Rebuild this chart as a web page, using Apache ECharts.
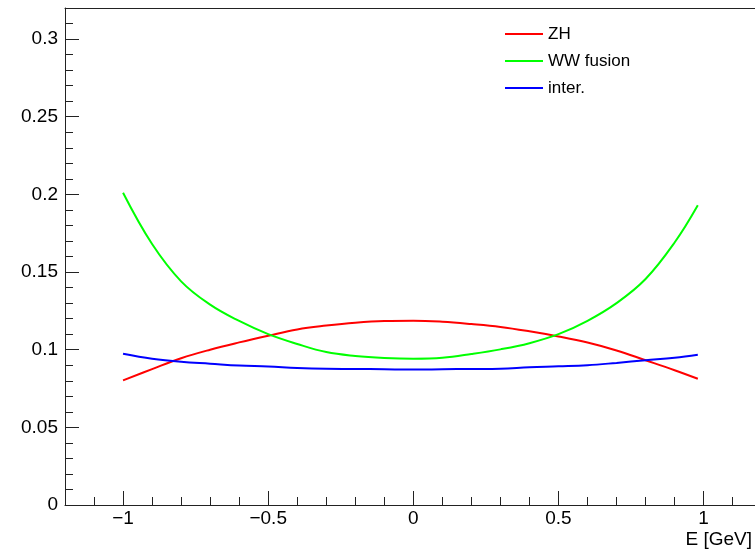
<!DOCTYPE html>
<html>
<head>
<meta charset="utf-8">
<script src="https://cdn.jsdelivr.net/npm/echarts@6/dist/echarts.min.js"></script>
<style>html,body{margin:0;padding:0;background:#fff}#c{width:755px;height:552px}</style>
</head>
<body>
<div id="c"></div>
<script>
// x positions of the curve samples
const xs = [-1.0,-0.9,-0.8,-0.7,-0.6,-0.5,-0.4,-0.3,-0.2,-0.1,0.0,0.1,0.2,0.3,0.4,0.5,0.6,0.7,0.8,0.9,0.98];
const zh = [0.0802,0.0875,0.0945,0.1000,0.1047,0.1090,0.1130,0.1155,0.1174,0.1185,0.1187,0.1180,0.1165,0.1146,0.1118,0.1085,0.1046,0.0995,0.0932,0.0868,0.0813];
const ww = [0.2010,0.1680,0.1440,0.1290,0.1185,0.1100,0.1037,0.0985,0.0960,0.0947,0.0942,0.0948,0.0972,0.1002,0.1042,0.1100,0.1186,0.1300,0.1455,0.1690,0.1930];
const inter = [0.0974,0.0942,0.0922,0.0910,0.0898,0.0892,0.0882,0.0877,0.0876,0.0874,0.0872,0.0874,0.0876,0.0878,0.0887,0.0893,0.0900,0.0915,0.0932,0.0948,0.0968];
const seriesNames = ['ZH','WW fusion','inter.'];
const xMajorTicks = [-1,-0.5,0,0.5,1];
const yMajorTicks = [0,0.05,0.1,0.15,0.2,0.25,0.3];
const xTitle = 'E [GeV]';

const fmt = v => {
  let s = String(Math.round(v*1000)/1000);
  return s.replace('-', '\u2212');
};
const pairs = arr => xs.map((x,i)=>[x,arr[i]]);
const FONT = '"Liberation Sans", Arial, sans-serif';
const AX = '#222';
const X_MIN = -1.2, X_MAX = 1.177;

const chart = echarts.init(document.getElementById('c'));
chart.setOption({
  animation:false,
  textStyle:{fontFamily:FONT},
  grid:{left:65, top:8, right:0, bottom:47, show:false},
  legend:{
    orient:'vertical', left:500, top:19, itemWidth:38, itemHeight:2, itemGap:7,
    icon:'rect', data:seriesNames,
    textStyle:{fontSize:17, color:'#000', lineHeight:20, fontFamily:FONT}
  },
  xAxis:[
    {type:'value', min:X_MIN, max:X_MAX, position:'bottom',
     axisLine:{show:true, onZero:false, lineStyle:{color:AX, width:1}},
     axisTick:{show:true, inside:true, length:14, customValues:xMajorTicks, lineStyle:{color:AX}},
     axisLabel:{show:true, customValues:xMajorTicks, formatter:fmt, fontSize:19, color:'#000', margin:4, fontFamily:FONT},
     splitLine:{show:false}},
    {type:'value', min:X_MIN, max:X_MAX, interval:0.1, position:'bottom',
     axisLine:{show:false, onZero:false},
     axisTick:{show:true, inside:true, length:8, lineStyle:{color:AX}},
     axisLabel:{show:false}, splitLine:{show:false}},
    {type:'value', min:X_MIN, max:X_MAX, position:'top',
     axisLine:{show:true, onZero:false, lineStyle:{color:AX, width:1}},
     axisTick:{show:false}, axisLabel:{show:false}, splitLine:{show:false}}
  ],
  yAxis:[
    {type:'value', min:0, max:0.32, position:'left',
     axisLine:{show:true, onZero:false, lineStyle:{color:AX, width:1}},
     axisTick:{show:true, inside:true, length:14, customValues:yMajorTicks, lineStyle:{color:AX}},
     axisLabel:{show:true, customValues:yMajorTicks, formatter:fmt, fontSize:19, color:'#000', margin:7, fontFamily:FONT},
     splitLine:{show:false}},
    {type:'value', min:0, max:0.32, interval:0.01, position:'left',
     axisLine:{show:false, onZero:false},
     axisTick:{show:true, inside:true, length:8, lineStyle:{color:AX}},
     axisLabel:{show:false}, splitLine:{show:false}}
  ],
  graphic:[{type:'text', right:3, top:530, style:{text:xTitle, fontSize:19, fill:'#000', font:'19px '+FONT}}],
  series:[
    {name:seriesNames[0], type:'line', data:pairs(zh), smooth:0.4, showSymbol:false, lineStyle:{color:'#ff0000', width:2}, itemStyle:{color:'#ff0000'}},
    {name:seriesNames[1], type:'line', data:pairs(ww), smooth:0.4, showSymbol:false, lineStyle:{color:'#00ff00', width:2}, itemStyle:{color:'#00ff00'}},
    {name:seriesNames[2], type:'line', data:pairs(inter), smooth:0.4, showSymbol:false, lineStyle:{color:'#0000ff', width:2}, itemStyle:{color:'#0000ff'}}
  ]
});
</script>
</body>
</html>
